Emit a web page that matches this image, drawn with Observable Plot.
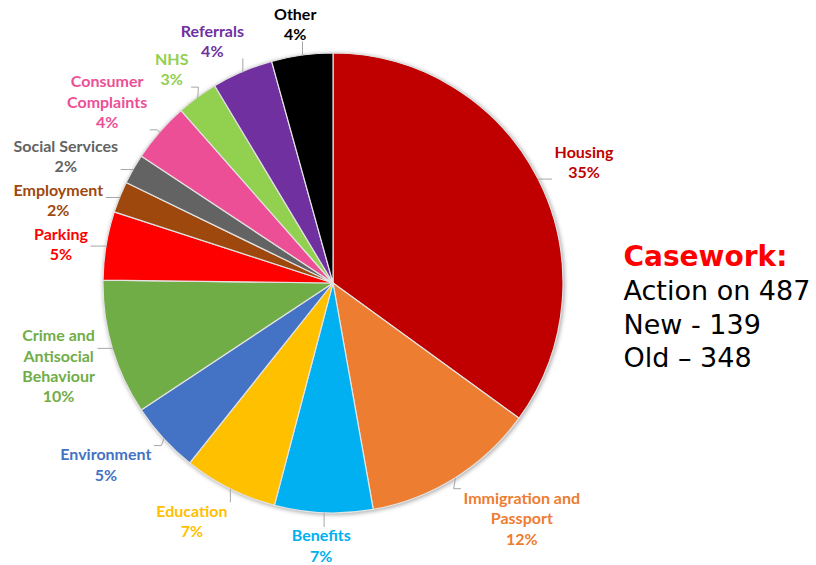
<!DOCTYPE html>
<html><head><meta charset="utf-8">
<script src="https://cdn.jsdelivr.net/npm/d3@7"></script>
<script src="https://cdn.jsdelivr.net/npm/@observablehq/plot@0.6"></script>
<style>body{margin:0;background:#fff;overflow:hidden}</style>
</head><body><div id="chart"></div>
<script>
// ---- data ----
const categories = ["Housing","Immigration and\nPassport","Benefits","Education","Environment","Crime and\nAntisocial\nBehaviour","Parking","Employment","Social Services","Consumer\nComplaints","NHS","Referrals","Other"];
const shares = [35.0,12.2,6.9,6.6,5.0,9.5,4.8,2.2,2.1,4.2,2.9,4.3,4.3];
const percentLabels = ["35%","12%","7%","7%","5%","10%","5%","2%","2%","4%","3%","4%","4%"];
const colors = ["#C00000","#ED7D31","#00B0F0","#FFC000","#4472C4","#70AD47","#FF0000","#9E480E","#636363","#EC4F96","#92D050","#7030A0","#000000"];
const caseworkTitle = ["Casework:"];
const caseworkLines = ["Action on 487","New - 139","Old \u2013 348"];

// ---- layout ----
const W = 816, H = 565, CX = 333, CY = 283, R = 230;
const FS = 16, LH = 20.5, FONT_FAMILY = "Lato, 'Open Sans', sans-serif";
const ctx = document.createElement("canvas").getContext("2d");
ctx.font = `bold ${FS}px Lato`;

const rows = categories.map((c, i) => ({category: c, share: shares[i], pct: percentLabels[i]}));
const arcs = d3.pie().sort(null).value(d => d.share)(rows);

const labels = arcs.map(p => {
  const a = (p.startAngle + p.endAngle) / 2;
  const ux = Math.sin(a), uy = -Math.cos(a);
  const text = p.data.category + "\n" + p.data.pct;
  const lines = text.split("\n");
  const w = d3.max(lines, l => ctx.measureText(l).width);
  const h = lines.length * LH;
  const g = 11 + 8 * Math.abs(ux);
  const px = CX + (R + g) * ux, py = CY + (R + g) * uy;
  const kx = Math.max(-1, Math.min(1, 2 * ux));
  return {category: p.data.category, text, w, h, ux, uy,
    cx: px + kx * w / 2, cy: py + uy * h / 2,
    ex: CX + R * ux, ey: CY + R * uy};
});
// resolve overlaps of side labels
for (const side of [l => l.ux < -0.7, l => l.ux > 0.7]) {
  const s = labels.filter(side).sort((a, b) => a.cy - b.cy);
  for (let i = 1; i < s.length; i++) {
    const p = s[i - 1], c = s[i];
    const xo = Math.abs(p.cx - c.cx) < (p.w + c.w) / 2;
    const minTop = p.cy + p.h / 2 + 3;
    if (xo && c.cy - c.h / 2 < minTop) c.cy = minTop + c.h / 2;
  }
}
// leader lines
const leaders = [];
labels.forEach((l, i) => {
  const x0 = l.cx - l.w / 2 - 3, x1 = l.cx + l.w / 2 + 3;
  const y0 = l.cy - l.h / 2 + 2, y1 = l.cy + l.h / 2 - 2;
  const ax = Math.max(x0, Math.min(x1, l.ex)), ay = Math.max(y0, Math.min(y1, l.ey));
  const d = Math.hypot(ax - l.ex, ay - l.ey);
  if (d < 9) return;
  const pts = [{x: l.ex, y: l.ey}];
  if (l.ex < x0 || l.ex > x1) {
    const sgn = l.ex > x1 ? 1 : -1;
    pts.push({x: ax + sgn * 7, y: ay});
  }
  pts.push({x: ax, y: ay});
  pts.forEach(p => leaders.push({...p, id: i}));
});

function pieMark(index, scales, values, dimensions, context) {
  const cx = scales.x(CX), cy = scales.y(CY), r = scales.x(CX + R) - cx;
  const arcGen = d3.arc().innerRadius(0).outerRadius(r);
  const g = d3.create("svg:g")
    .attr("transform", `translate(${cx},${cy})`)
    .style("filter", "drop-shadow(1px 1px 2px rgba(0,0,0,0.35))");
  g.selectAll("path").data(arcs).join("path")
    .attr("d", arcGen)
    .attr("fill", d => scales.color(d.data.category))
    .attr("stroke", "#e3e3e3")
    .attr("stroke-width", 1.2)
    .attr("stroke-linejoin", "round");
  return g.node();
}

const TX = 623;
const chart = Plot.plot({
  width: W, height: H, margin: 0,
  style: {background: "#fff", overflow: "visible"},
  x: {domain: [0, W], range: [0, W], axis: null},
  y: {domain: [0, H], range: [0, H], axis: null},
  color: {domain: categories, range: colors},
  marks: [
    pieMark,
    Plot.line(leaders, {x: "x", y: "y", z: "id", stroke: "#a6a6a6", strokeWidth: 1}),
    Plot.text(labels, {x: "cx", y: "cy", text: "text", fill: "category",
      fontSize: FS, fontWeight: "bold", fontFamily: FONT_FAMILY,
      lineHeight: LH / FS, textAnchor: "middle", lineAnchor: "middle"}),
    Plot.text(caseworkTitle, {x: () => TX, y: () => 257, text: d => d, fill: "#FF0000",
      fontSize: 28, fontWeight: "bold", fontFamily: "'DejaVu Sans', Verdana, sans-serif",
      textAnchor: "start", lineAnchor: "middle"}),
    Plot.text(caseworkLines, {x: () => TX, y: (d, i) => 291 + i * 33.5, text: d => d, fill: "#000",
      fontSize: 27, fontFamily: "'DejaVu Sans', Verdana, sans-serif",
      textAnchor: "start", lineAnchor: "middle"})
  ]
});
document.getElementById("chart").append(chart);
</script>
</body></html>
